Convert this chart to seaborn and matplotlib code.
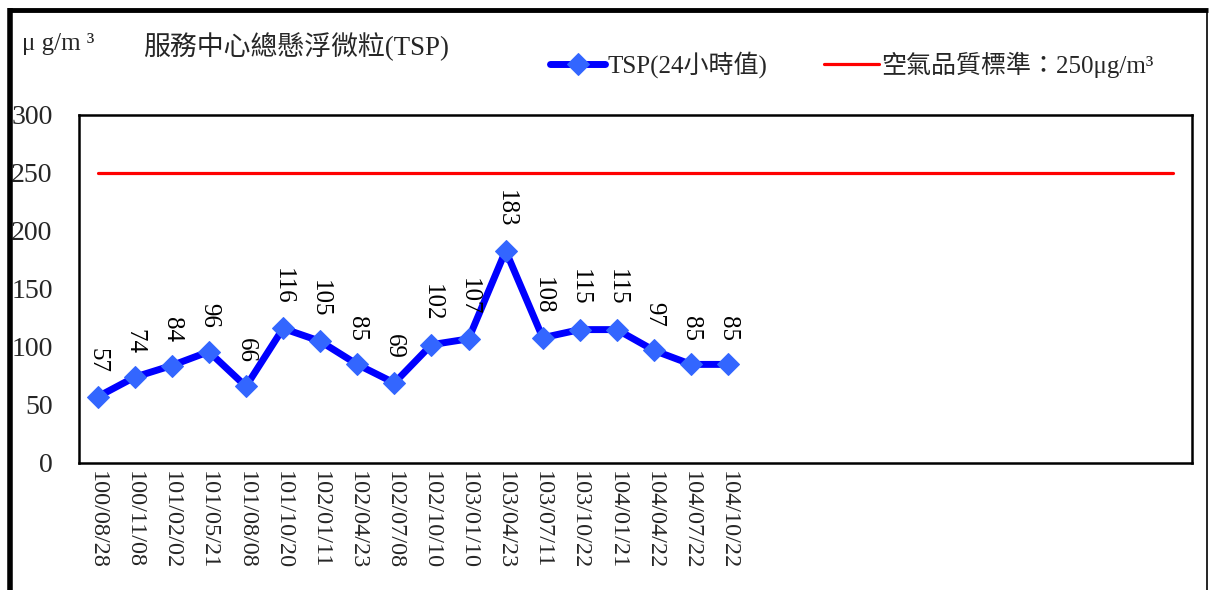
import matplotlib
matplotlib.use("Agg")
import matplotlib.pyplot as plt
from matplotlib.lines import Line2D
import seaborn as sns
import pandas as pd
import numpy as np

# ---- data ----
dates = ["100/08/28", "100/11/08", "101/02/02", "101/05/21", "101/08/08",
         "101/10/20", "102/01/11", "102/04/23", "102/07/08", "102/10/10",
         "103/01/10", "103/04/23", "103/07/11", "103/10/22", "104/01/21",
         "104/04/22", "104/07/22", "104/10/22"]
tsp = [57, 74, 84, 96, 66, 116, 105, 85, 69, 102, 107, 183, 108, 115, 115, 97, 85, 85]
n_slots = 30
standard = 250
title = "服務中心總懸浮微粒(TSP)"
unit = "μ g/m ³"
series_label = "TSP(24小時值)"
standard_label = "空氣品質標準：250μg/m³"
y_ticks = [0, 50, 100, 150, 200, 250, 300]

sns.set_style("white")
plt.rcParams["font.family"] = ["Liberation Serif", "Noto Sans CJK TC", "DejaVu Sans"]

W, H = 1209, 590
fig = plt.figure(figsize=(W / 100, H / 100), dpi=100)
ax = fig.add_axes([79 / W, 1 - 463 / H, (1192 - 79) / W, (463 - 115) / H])

df = pd.DataFrame({"pos": np.arange(len(tsp)), "value": tsp})
df_std = pd.DataFrame({"pos": np.arange(n_slots), "value": [standard] * n_slots})

sns.lineplot(data=df_std, x="pos", y="value", ax=ax, color="#FF0000", linewidth=2.3,
             label=standard_label, legend=False)
sns.lineplot(data=df, x="pos", y="value", ax=ax, color="#0000FF", linewidth=5,
             marker="D", markersize=11, markerfacecolor="#3366FF", markeredgecolor="#3366FF",
             label=series_label, legend=False)

for i, v in enumerate(tsp):
    ax.annotate(str(v), (i, v), xytext=(0, 17), textcoords="offset points",
                rotation=-90, ha="center", va="bottom", fontsize=18, color="black")

ax.set_xlim(-0.5, n_slots - 0.5)
ax.set_ylim(0, 300)
ax.set_yticks(y_ticks)
ax.set_yticklabels([str(t) for t in y_ticks], fontsize=20)
ax.set_xticks(np.arange(len(dates)))
ax.set_xticklabels(dates, rotation=-90, fontsize=17.5, va="top", ha="center")
ax.set_xticks(np.arange(0.5, n_slots - 0.5, 1), minor=True)
ax.tick_params(axis="x", which="major", length=0, pad=6)
ax.tick_params(axis="x", which="minor", direction="in", length=6, width=1.5, color="black")
ax.tick_params(axis="y", which="major", direction="in", length=6, width=1.5, color="black", pad=19)
ax.set_xlabel("")
ax.set_ylabel("")
for s in ax.spines.values():
    s.set_color("black")
    s.set_linewidth(1.8)

# legend
h_std, h_tsp = ax.get_lines()[0], ax.get_lines()[1]
fig.legend([h_tsp, h_std], [series_label, standard_label], loc="center left",
           bbox_to_anchor=(550 / W, 1 - 65 / H), bbox_transform=fig.transFigure,
           ncol=2, frameon=False, fontsize=18, handlelength=2.2, handletextpad=0.1,
           columnspacing=2.25, borderpad=0, borderaxespad=0, numpoints=1)

# title texts
fig.text(22 / W, 1 - 44 / H, unit, fontsize=18, va="center", ha="left")
fig.text(143 / W, 1 - 47 / H, title, fontsize=19.4, va="center", ha="left")

# outer frame
fig.add_artist(Line2D([8 / W, 1 - 1 / W], [1 - 10 / H, 1 - 10 / H], transform=fig.transFigure,
                      color="black", linewidth=3.5, solid_capstyle="butt"))
fig.add_artist(Line2D([10 / W, 10 / W], [1 - 8 / H, 0], transform=fig.transFigure,
                      color="black", linewidth=4, solid_capstyle="butt"))
fig.add_artist(Line2D([1207 / W, 1207 / W], [1 - 10 / H, 0], transform=fig.transFigure,
                      color="black", linewidth=1.2, solid_capstyle="butt"))

fig.savefig("out.png", dpi=100)
